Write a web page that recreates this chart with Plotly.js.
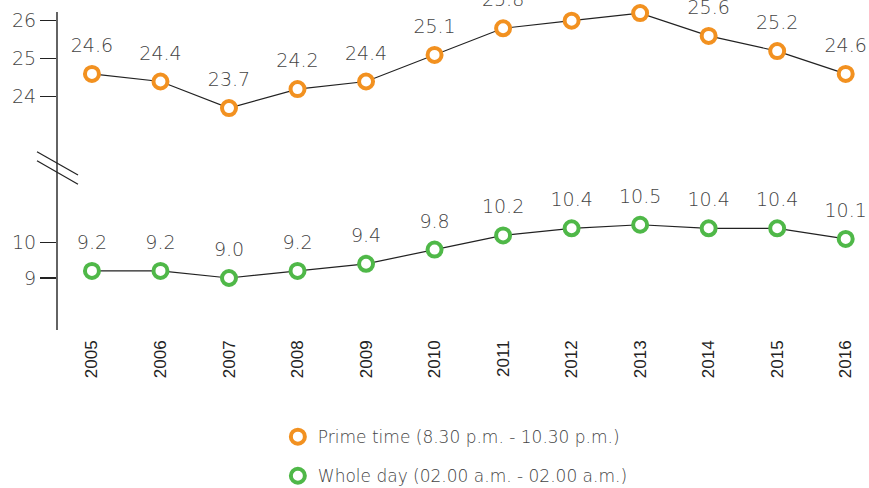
<!DOCTYPE html>
<html>
<head>
<meta charset="utf-8">
<script src="https://cdn.plot.ly/plotly-3.0.1.min.js"></script>
<style>
  html, body { margin: 0; padding: 0; background: #fff; }
  #chart { width: 869px; height: 488px; }
</style>
</head>
<body>
<div id="chart"></div>
<script>
// ---- data ----
var years = [2005, 2006, 2007, 2008, 2009, 2010, 2011, 2012, 2013, 2014, 2015, 2016];
var primeTime = [24.6, 24.4, 23.7, 24.2, 24.4, 25.1, 25.8, 26.0, 26.2, 25.6, 25.2, 24.6];
var wholeDay  = [9.2, 9.2, 9.0, 9.2, 9.4, 9.8, 10.2, 10.4, 10.5, 10.4, 10.4, 10.1];
var seriesNames = ['Prime time (8.30 p.m. - 10.30 p.m.)', 'Whole day (02.00 a.m. - 02.00 a.m.)'];
var topTicks = [24, 25, 26];
var bottomTicks = [9, 10];

// ---- style ----
var ORANGE = '#F29120';
var GREEN = '#4FB848';
var LINE = '#222222';
var TXT = '#444444';
var FONT = '"DejaVu Sans", sans-serif';
var labelFont = { family: FONT, size: 19, color: TXT, weight: 200 };

function fmt(a) { return a.map(function (v) { return v.toFixed(1); }); }

// connecting line + value labels (labels pushed up by an invisible wider marker)
function lineTrace(y, axis) {
  return { x: years, y: y, yaxis: axis, mode: 'lines+markers+text', type: 'scatter',
           line: { color: LINE, width: 1.2 },
           marker: { size: 26, opacity: 0, color: '#ffffff' },
           text: fmt(y), textposition: 'top center', textfont: labelFont,
           showlegend: false, hoverinfo: 'skip', cliponaxis: false };
}
function markerTrace(y, axis, color, name, group) {
  return { x: years, y: y, yaxis: axis, mode: 'markers', type: 'scatter', name: name,
           legendgroup: group, cliponaxis: false,
           marker: { symbol: 'circle', size: 14, color: '#ffffff', line: { color: color, width: 4 } } };
}

var data = [
  lineTrace(primeTime, 'y2'),
  lineTrace(wholeDay, 'y'),
  markerTrace(primeTime, 'y2', ORANGE, seriesNames[0], 'a'),
  markerTrace(wholeDay, 'y', GREEN, seriesNames[1], 'b')
];

var axisCommon = {
  showgrid: false, zeroline: false, showline: false,
  ticks: 'outside', ticklen: 16, tickwidth: 1.4, tickcolor: LINE,
  tickfont: labelFont, ticksuffix: '\u2009', fixedrange: true
};

var layout = {
  width: 869, height: 488,
  margin: { l: 57, r: 0, t: 0, b: 158, autoexpand: false },
  paper_bgcolor: '#ffffff', plot_bgcolor: '#ffffff',
  showlegend: true,
  xaxis: {
    range: [2004.49, 2016.34], showgrid: false, zeroline: false, showline: false,
    ticks: '', tickmode: 'array', tickvals: years, ticktext: years.map(String),
    tickangle: -90, ticklabelstandoff: 6,
    tickfont: { family: '"Liberation Sans", Arial, sans-serif', size: 17, color: '#222' },
    fixedrange: true
  },
  yaxis: Object.assign({}, axisCommon, {
    domain: [0, 140 / 330], range: [7.535, 11.479], tickmode: 'array', tickvals: bottomTicks
  }),
  yaxis2: Object.assign({}, axisCommon, {
    domain: [200 / 330, 1], range: [23.124, 26.545], tickmode: 'array', tickvals: topTicks
  }),
  legend: {
    x: 0.272, xanchor: 'left', y: -0.27, yanchor: 'top',
    font: { family: FONT, size: 17, color: TXT, weight: 200 },
    traceorder: 'grouped', tracegroupgap: 14, bgcolor: 'rgba(0,0,0,0)'
  },
  shapes: [
    { type: 'line', xref: 'paper', yref: 'paper', x0: 0, x1: 0, y0: 0, y1: 318 / 330,
      line: { color: LINE, width: 1.4 } },
    { type: 'line', xref: 'paper', yref: 'paper', x0: -20 / 812, x1: 21 / 812,
      y0: (330 - 151.7) / 330, y1: (330 - 175) / 330, line: { color: LINE, width: 1.2 } },
    { type: 'line', xref: 'paper', yref: 'paper', x0: -20 / 812, x1: 21 / 812,
      y0: (330 - 160.7) / 330, y1: (330 - 184.3) / 330, line: { color: LINE, width: 1.2 } }
  ]
};

Plotly.newPlot('chart', data, layout, { displayModeBar: false, staticPlot: true });
</script>
</body>
</html>
